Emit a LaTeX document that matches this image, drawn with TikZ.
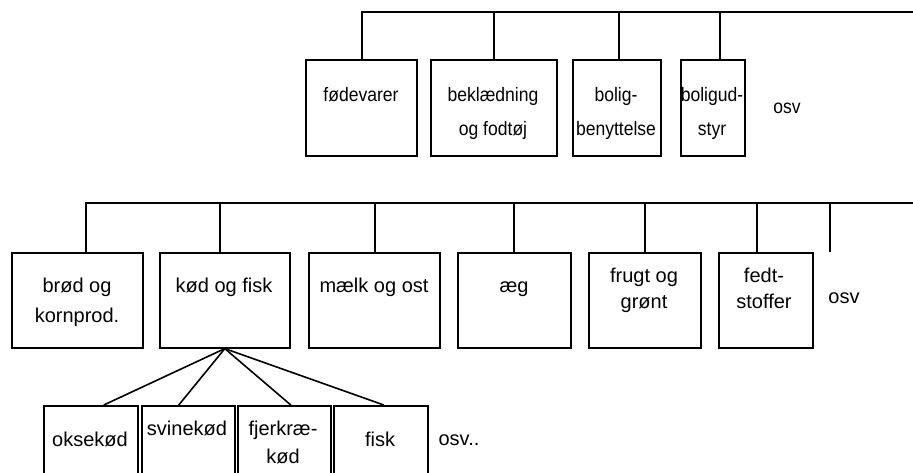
\documentclass[tikz,border=0pt]{standalone}
\usepackage{fontspec}
\setmainfont{Liberation Sans}
\newcommand{\narrowtext}[1]{\scalebox{0.9}[1]{#1}}
\begin{document}
\begin{tikzpicture}[x=1pt,y=-1pt,
  box/.style={draw,line width=1.6pt,inner sep=0pt,anchor=north west},
  txt/.style={anchor=base,inner sep=0pt,font=\fontsize{20}{24}\selectfont},
  txtsm/.style={anchor=base,inner sep=0pt,font=\fontsize{19.5}{24}\selectfont},
  conn/.style={line width=1.6pt}]
\useasboundingbox (0,0) rectangle (913,473);
\clip (0,0) rectangle (913,473);
% top row
\node[box,minimum width=111pt,minimum height=96pt] (A) at (305,59) {};
\node[box,minimum width=126pt,minimum height=96pt] (B) at (430,59) {};
\node[box,minimum width=88pt,minimum height=96pt] (C) at (572,59) {};
\node[box,minimum width=64pt,minimum height=96pt] (D) at (680,59) {};
\node[txtsm] (tA) at (361,102) {\narrowtext{fødevarer}};
\node[txtsm] (tB1) at (493,102) {\narrowtext{beklædning}};
\node[txtsm] (tB2) at (493,136) {\narrowtext{og fodtøj}};
\node[txtsm] (tC1) at (616,102) {\narrowtext{bolig-}};
\node[txtsm] (tC2) at (616,136) {\narrowtext{benyttelse}};
\node[txtsm] (tD1) at (712,102) {\narrowtext{boligud-}};
\node[txtsm] (tD2) at (712,136) {\narrowtext{styr}};
\node[txtsm] (osv1) at (787,114) {\narrowtext{osv}};
\coordinate (topR) at (913,12);
\draw[conn] ([xshift=0.5pt]A.north) |- (topR);
\draw[conn] (B.north) -- (B.north |- topR);
\draw[conn] ([xshift=2pt]C.north) -- ([xshift=2pt]C.north |- topR);
\draw[conn] ([xshift=7pt]D.north) -- ([xshift=7pt]D.north |- topR);
% middle row
\node[box,minimum width=131pt,minimum height=95pt] (E) at (11,252) {};
\node[box,minimum width=130pt,minimum height=95pt] (F) at (159,252) {};
\node[box,minimum width=131pt,minimum height=95pt] (G) at (308,252) {};
\node[box,minimum width=113pt,minimum height=95pt] (H) at (457,252) {};
\node[box,minimum width=112pt,minimum height=95pt] (I) at (588,252) {};
\node[box,minimum width=94pt,minimum height=95pt] (J) at (718,252) {};
\node[txt] (tE1) at (77,292) {brød og};
\node[txt] (tE2) at (77,322) {kornprod.};
\node[txt] (tF) at (224,292) {kød og fisk};
\node[txt] (tG) at (374,292) {mælk og ost};
\node[txt] (tH) at (514,292) {æg};
\node[txt] (tI1) at (644,282) {frugt og};
\node[txt] (tI2) at (644,308) {grønt};
\node[txt] (tJ1) at (764,282) {fedt-};
\node[txt] (tJ2) at (764,308) {stoffer};
\node[txt] (osv2) at (844,303) {osv};
\coordinate (midR) at (913,203);
\coordinate (free) at (830,252);
\draw[conn] ([xshift=8.5pt]E.north) |- (midR);
\draw[conn] ([xshift=-5pt]F.north) -- ([xshift=-5pt]F.north |- midR);
\draw[conn] ([xshift=0.5pt]G.north) -- ([xshift=0.5pt]G.north |- midR);
\draw[conn] ([xshift=-0.5pt]H.north) -- ([xshift=-0.5pt]H.north |- midR);
\draw[conn] (I.north) -- (I.north |- midR);
\draw[conn] ([xshift=-9pt]J.north) -- ([xshift=-9pt]J.north |- midR);
\draw[conn] (free) -- (free |- midR);
% bottom row
\node[box,minimum width=94pt,minimum height=90pt] (K) at (43,405) {};
\node[box,minimum width=93pt,minimum height=90pt] (L) at (141,405) {};
\node[box,minimum width=93pt,minimum height=90pt] (M) at (237,405) {};
\node[box,minimum width=94pt,minimum height=90pt] (N) at (333,405) {};
\node[txt] (tK) at (90,446) {oksekød};
\node[txt] (tL) at (187,435) {svinekød};
\node[txt] (tM1) at (283,435) {fjerkræ-};
\node[txt] (tM2) at (283,463) {kød};
\node[txt] (tN) at (380,446) {fisk};
\node[txt] (osv3) at (459,445) {osv..};
\draw[conn] (F.south) -- ([xshift=13pt]K.north);
\draw[conn] (F.south) -- ([xshift=-9.5pt]L.north);
\draw[conn] (F.south) -- ([xshift=6.5pt]M.north);
\draw[conn] (F.south) -- ([xshift=3pt]N.north);
\end{tikzpicture}
\end{document}
